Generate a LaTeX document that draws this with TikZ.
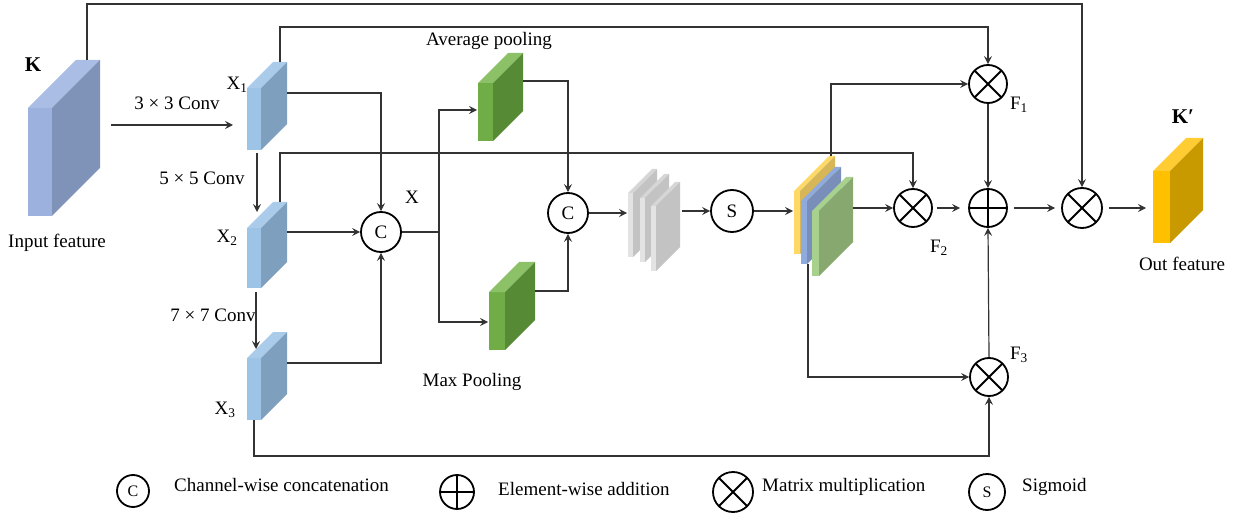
\documentclass[tikz,border=0pt]{standalone}
\usepackage{fontspec}
\setmainfont{Liberation Serif}
\usetikzlibrary{arrows.meta,fit,calc}
\definecolor{kfront}{HTML}{9DB1DE}
\definecolor{kside}{HTML}{7F92B8}
\definecolor{ktop}{HTML}{AABDE4}
\definecolor{xfront}{HTML}{9DC3E6}
\definecolor{xside}{HTML}{7E9FBE}
\definecolor{xtop}{HTML}{ABCBEA}
\definecolor{gfront}{HTML}{70AD47}
\definecolor{gside}{HTML}{578A35}
\definecolor{gtop}{HTML}{8CC168}
\definecolor{sfront}{HTML}{E3E3E3}
\definecolor{sside}{HTML}{C3C3C3}
\definecolor{stop}{HTML}{D6D6D6}
\definecolor{yfront}{HTML}{FFD966}
\definecolor{yside}{HTML}{D6B656}
\definecolor{bfront}{HTML}{8FAADC}
\definecolor{bside}{HTML}{7A8EBA}
\definecolor{lgfront}{HTML}{A9D18E}
\definecolor{lgside}{HTML}{87A96F}
\definecolor{ofront}{HTML}{FFC000}
\definecolor{oside}{HTML}{C99A00}
\definecolor{otop}{HTML}{FFCC33}
\tikzset{
  conn/.style={draw=black!80, line width=1.2pt},
  arr/.style={conn, -{Stealth[length=8pt,width=8pt,inset=3pt]}},
  op/.style={circle, draw=black, line width=1.8pt, minimum size=#1, inner sep=0pt, font=\fontsize{19}{22}\selectfont},
  otimes/.style={op=#1, path picture={\draw[line width=1.8pt] (path picture bounding box.north west) -- (path picture bounding box.south east) (path picture bounding box.north east) -- (path picture bounding box.south west);}},
  oplus/.style={op=#1, path picture={\draw[line width=1.8pt] (path picture bounding box.north) -- (path picture bounding box.south) (path picture bounding box.west) -- (path picture bounding box.east);}},
  lbl/.style={font=\fontsize{19}{22}\selectfont, inner sep=0pt, text height=13pt, text depth=4pt},
  bold/.style={font=\fontsize{21}{24}\selectfont\bfseries, inner sep=0pt},
}
% name, x, y, w, h, d, front, side, top
\newcommand\blockcube[9]{%
  \fill[#7] (#2,#3) rectangle ++(#4,#5);
  \fill[#9] (#2,#3) -- ++(#6,-#6) -- ++(#4,0) -- ++(-#6,#6) -- cycle;
  \fill[#8] ($(#2,#3)+(#4,0)$) -- ++(#6,-#6) -- ++(0,#5) -- ++(-#6,#6) -- cycle;
  \node[fit={(#2,#3-#6) (#2+#4+#6,#3+#5)}, inner sep=0pt] (#1) {};
}
\begin{document}
\begin{tikzpicture}[x=1pt,y=-1pt]
\useasboundingbox (0,0) rectangle (1239,521);

% blocks
\blockcube{K}{28}{108}{24}{108}{48}{kfront}{kside}{ktop}
\blockcube{X1}{247}{88}{14}{62}{26}{xfront}{xside}{xtop}
\blockcube{X2}{247}{228}{14}{60}{26}{xfront}{xside}{xtop}
\blockcube{X3}{247}{358}{14}{62}{26}{xfront}{xside}{xtop}
\blockcube{AP}{478}{83}{15}{58}{30}{gfront}{gside}{gtop}
\blockcube{MP}{489}{292}{16}{58}{30}{gfront}{gside}{gtop}
\blockcube{G1}{628}{193}{5}{64}{24}{sfront}{sside}{stop}
\blockcube{G2}{640}{198}{5}{64}{24}{sfront}{sside}{stop}
\blockcube{G3}{651}{206}{5}{65}{24}{sfront}{sside}{stop}
\blockcube{SY}{794}{191}{6}{63}{35}{yfront}{yside}{yfront}
\blockcube{SB}{801}{201}{6}{63}{34}{bfront}{bside}{bfront}
\blockcube{SG}{812}{211}{7}{65}{34}{lgfront}{lgside}{lgfront}
\blockcube{OUT}{1153}{171}{17}{72}{33}{ofront}{oside}{otop}

% operators
\node[op=40pt] (C1) at (381,232) {C};
\node[op=40pt] (C2) at (568,213) {C};
\node[op=42pt] (S) at (732,211) {S};
\node[otimes=38pt] (F1) at (988,84) {};
\node[otimes=38pt] (F2) at (913,208) {};
\node[oplus=38pt] (P) at (988,208) {};
\node[otimes=38pt] (F3) at (989,377) {};
\node[otimes=40pt] (M) at (1082,208) {};

% labels
\node[bold] (lK) at (33,65) {K};
\node[bold] (lKp) at (1183,117) {K′};
\node[lbl] (lin) at (57,243) {Input feature};
\node[lbl] (lout) at (1182,266) {Out feature};
\node[lbl] (lx1) at (237,85) {X\textsubscript{1}};
\node[lbl] (lx2) at (227,238) {X\textsubscript{2}};
\node[lbl] (lx3) at (225,410) {X\textsubscript{3}};
\node[lbl] (lx) at (412,199) {X};
\node[lbl] (l33) at (177,105) {3 × 3 Conv};
\node[lbl] (l55) at (202,180) {5 × 5 Conv};
\node[lbl] (l77) at (213,317) {7 × 7 Conv};
\node[lbl] (lavg) at (489,41) {Average pooling};
\node[lbl] (lmax) at (472,382) {Max Pooling};
\node[lbl] (lf1) at (1019,105) {F\textsubscript{1}};
\node[lbl] (lf2) at (939,248) {F\textsubscript{2}};
\node[lbl] (lf3) at (1019,355) {F\textsubscript{3}};

% connector end points
\coordinate (kt) at (87,60);
\coordinate (c33s) at (111,125);
\coordinate (c33e) at (233,125);
\coordinate (x1bot) at (257,153);
\coordinate (x2top) at (257,212);
\coordinate (x2bot) at (256,292);
\coordinate (x3top) at (256,349);
\coordinate (x1r) at (287,93);
\coordinate (x2r) at (287,232);
\coordinate (x3r) at (287,363);
\coordinate (x1t) at (280,62);
\coordinate (x2t) at (280,202);
\coordinate (x3b) at (254,420);
\coordinate (j) at (439,232);
\coordinate (apl) at (477,110);
\coordinate (mpl) at (488,322);
\coordinate (apr) at (523,81);
\coordinate (mpr) at (535,291);
\coordinate (gl) at (627,213);
\coordinate (gr) at (682,211);
\coordinate (stl) at (793,211);
\coordinate (stt) at (831,156);
\coordinate (str) at (853,208);
\coordinate (stb) at (808,264);
\coordinate (outl) at (1146,208);

% connectors
\draw[arr] (kt) -- ++(0,-56) -| (M.north);
\draw[arr] (c33s) -- (c33e);
\draw[arr] (x1bot) -- (x2top);
\draw[arr] (x2bot) -- (x3top);
\draw[arr] (x1r) -| (C1.north);
\draw[arr] (x2r) -- (C1.west);
\draw[arr] (x3r) -| (C1.south);
\draw[arr] (x1t) -- ++(0,-35) -| (F1.north);
\draw[arr] (x2t) -- ++(0,-49) -| (F2.north);
\draw[arr] (x3b) -- ++(0,36) -| (F3.south);
\draw[conn] (C1.east) -- (j);
\draw[arr] (j) |- (apl);
\draw[arr] (j) |- (mpl);
\draw[arr] (apr) -| (C2.north);
\draw[arr] (mpr) -| (C2.south);
\draw[arr] (C2.east) -- (gl);
\draw[arr] (gr) -- (S.west);
\draw[arr] (S.east) -- (stl);
\draw[arr] (stt) |- (F1.west);
\draw[arr] (str) -- (F2.west);
\draw[arr] (stb) |- (F3.west);
\draw[arr, shorten <=4pt, shorten >=8pt] (F2.east) -- (P.west);
\draw[arr] (F1.south) -- (P.north);
\draw[arr] (F3.north) -- (P.south);
\draw[arr, shorten <=6pt, shorten >=6pt] (P.east) -- (M.west);
\draw[arr, shorten <=6pt] (M.east) -- (outl);

% legend
\node[op=32pt, font=\fontsize{16}{18}\selectfont] (LC) at (133,491) {C};
\node[oplus=34pt] (LP) at (457,492) {};
\node[otimes=40pt] (LM) at (733,492) {};
\node[op=36pt, font=\fontsize{16}{18}\selectfont] (LS) at (987,492) {S};
\node[lbl, anchor=west] (tC) at (174,487) {Channel-wise concatenation};
\node[lbl, anchor=west] (tP) at (498,491) {Element-wise addition};
\node[lbl, anchor=west] (tM) at (762,487) {Matrix multiplication};
\node[lbl, anchor=west] (tS) at (1022,487) {Sigmoid};
\end{tikzpicture}
\end{document}
